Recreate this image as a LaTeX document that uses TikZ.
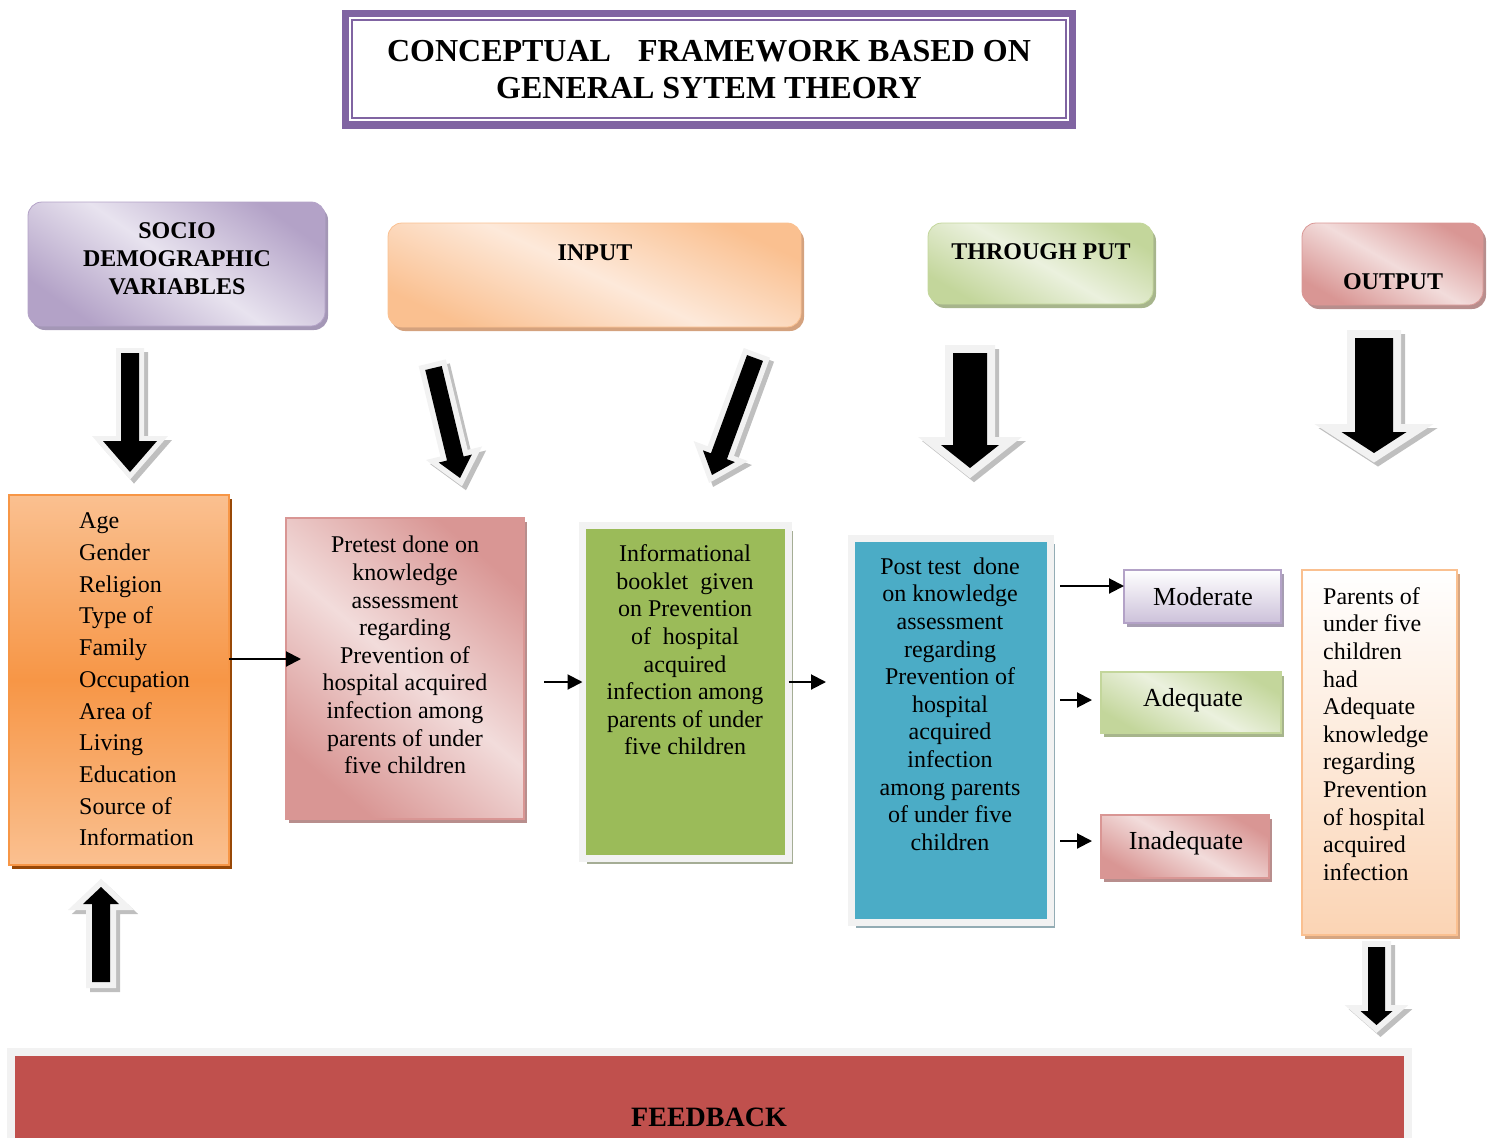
\documentclass[tikz,border=0pt]{standalone}
\usepackage{fontspec}
\setmainfont{Liberation Serif}
\usetikzlibrary{shadows,arrows.meta,calc}

\definecolor{tpurple}{HTML}{8064A2}
\definecolor{socioD}{HTML}{B3A2C7}
\definecolor{socioL}{HTML}{E8E3EF}
\definecolor{socioSh}{HTML}{A497B6}
\definecolor{inD}{HTML}{FAC090}
\definecolor{inL}{HTML}{FDE9DA}
\definecolor{inSh}{HTML}{D4A27E}
\definecolor{thD}{HTML}{C3D69B}
\definecolor{thL}{HTML}{EBF1DE}
\definecolor{thSh}{HTML}{A7B58C}
\definecolor{ouD}{HTML}{D99694}
\definecolor{ouL}{HTML}{F2DCDB}
\definecolor{ouSh}{HTML}{B88E8D}
\definecolor{listD}{HTML}{F79646}
\definecolor{listL}{HTML}{FAC090}
\definecolor{listSh}{HTML}{984807}
\definecolor{grn}{HTML}{9BBB59}
\definecolor{grnSh}{HTML}{A5AD95}
\definecolor{blu}{HTML}{4BACC6}
\definecolor{bluSh}{HTML}{93ACB4}
\definecolor{frameGrey}{HTML}{F2F2F2}
\definecolor{modD}{HTML}{CCC1DA}
\definecolor{modB}{HTML}{B3A2C7}
\definecolor{modSh}{HTML}{A69DB2}
\definecolor{otD}{HTML}{FBD4B4}
\definecolor{otSh}{HTML}{D6A682}
\definecolor{fbRed}{HTML}{C0504D}
\definecolor{arrRim}{HTML}{F2F2F2}
\definecolor{arrSh}{HTML}{BFBFBF}

% block arrow: tail x,y ; tip x,y ; shaft half width ; head half width ; head length ; rim width
\newcommand\blockarr[8]{%
  \pgfmathsetmacro\bdx{(#3)-(#1)}%
  \pgfmathsetmacro\bdy{(#2)-(#4)}%
  \pgfmathsetmacro\blen{veclen(\bdx,\bdy)}%
  \pgfmathsetmacro\bang{atan2(\bdy,\bdx)}%
  \pgfmathsetmacro\bbase{\blen-(#7)}%
  \begin{scope}[shift={({#1+4},{#2+4})},rotate=\bang]
    \path[fill=arrSh,draw=arrSh,line width=#8pt,line join=miter]
      (0,-#5)--(\bbase,-#5)--(\bbase,-#6)--(\blen,0)--(\bbase,#6)--(\bbase,#5)--(0,#5)--cycle;
  \end{scope}
  \begin{scope}[shift={(#1,#2)},rotate=\bang]
    \path[fill=arrRim,draw=arrRim,line width=#8pt,line join=miter]
      (0,-#5)--(\bbase,-#5)--(\bbase,-#6)--(\blen,0)--(\bbase,#6)--(\bbase,#5)--(0,#5)--cycle;
    \path[fill=black]
      (0,-#5)--(\bbase,-#5)--(\bbase,-#6)--(\blen,0)--(\bbase,#6)--(\bbase,#5)--(0,#5)--cycle;
  \end{scope}}

\tikzset{
  hdrtxt/.style={font=\bfseries\fontsize{24}{28}\selectfont, align=center, inner sep=0pt},
  bodytxt/.style={font=\fontsize{24}{27.6}\selectfont, align=center, inner sep=0pt},
  listtxt/.style={font=\fontsize{24}{31.7}\selectfont, align=left, inner sep=0pt},
  gradetxt/.style={font=\fontsize{26}{30}\selectfont, inner sep=0pt},
  conn/.style={line width=2pt, -{Triangle[length=15pt,width=15pt]}},
  boxbase/.style={inner sep=0pt, outer sep=0pt},
  hdrbox/.style={boxbase, rounded corners=14pt},
  dshade/.style n args={3}{top color=#1, bottom color=#1, middle color=#2, shading angle=#3},
  sh/.style={general shadow={fill=#1, shadow xshift=3pt, shadow yshift=-4pt}},
}

\begin{document}
\begin{tikzpicture}[x=1pt,y=-1pt]
\useasboundingbox (0,0) rectangle (1495,1137);
\clip (0,0) rectangle (1495,1137);

% title
\node[boxbase, draw=tpurple, line width=7pt, minimum width=727pt, minimum height=111pt,
      font=\bfseries\fontsize{32}{37}\selectfont, align=center] (title) at (709,69.5)
      {CONCEPTUAL\hspace{27pt}FRAMEWORK BASED ON\\GENERAL SYTEM THEORY};
\draw[tpurple, line width=2pt] ($(title.north west)+(6.5,6.5)$) rectangle ($(title.south east)+(-6.5,-6.5)$);

% header boxes
\node[hdrbox, sh=socioSh, draw=socioD, line width=0.8pt, minimum width=297pt, minimum height=124pt,
      dshade={socioD}{socioL}{-35}] (socio) at (176.5,264) {};
\node[hdrtxt] (sociot) at (177,259) {SOCIO\\DEMOGRAPHIC\\VARIABLES};

\node[hdrbox, sh=inSh, draw=inD, line width=0.8pt, minimum width=413pt, minimum height=104pt,
      dshade={inD}{inL}{-25}] (input) at (594.5,275) {};
\node[hdrtxt] (inputt) at (595,253) {INPUT};

\node[hdrbox, sh=thSh, draw=thD, line width=0.8pt, minimum width=225pt, minimum height=81pt,
      dshade={thD}{thL}{-30}] (thru) at (1040.5,263.5) {};
\node[hdrtxt] (thrut) at (1041,252) {THROUGH PUT};

\node[hdrbox, sh=ouSh, draw=ouD, line width=0.8pt, minimum width=181pt, minimum height=82pt,
      dshade={ouD}{ouL}{-30}] (outp) at (1392.5,264) {};
\node[hdrtxt] (outpt) at (1393,282) {OUTPUT};

% block arrows
\blockarr{130}{353}{130}{472}{9}{27}{31}{10}
\blockarr{433.5}{368}{460}{478}{8.5}{17}{20}{11}
\blockarr{755}{358}{712}{475}{8.5}{17}{20}{11}
\blockarr{970}{353}{970}{468}{17}{29}{23}{16}
\blockarr{1374}{338}{1374}{453}{19}{32.5}{21}{16}
\blockarr{101}{982}{101}{887}{9}{18}{17}{12}
\blockarr{1376.5}{947}{1376.5}{1025}{8.5}{16}{14}{12}

% list box
\node[boxbase, general shadow={fill=listSh, shadow xshift=3pt, shadow yshift=-4pt},
      draw=listD, line width=1.5pt, minimum width=220pt, minimum height=370pt,
      top color=listL, bottom color=listL, middle color=listD] (list) at (119,680) {};
\node[listtxt, anchor=west] (listt) at (79,679.5)
  {Age\\Gender\\Religion\\Type of\\Family\\Occupation\\Area of\\Living\\Education\\Source of\\Information};

% pretest box
\node[boxbase, sh=ouSh, draw=ouD, line width=1.5pt, minimum width=238pt, minimum height=301pt,
      dshade={ouD}{ouL}{-40}] (pre) at (405,668.5) {};
\node[bodytxt] (pret) at (405,655)
  {Pretest done on\\knowledge\\assessment\\regarding\\Prevention of\\hospital acquired\\infection among\\parents of under\\five children};

% green box
\node[boxbase, general shadow={fill=grnSh, shadow xshift=4pt, shadow yshift=-5pt},
      fill=grn, draw=frameGrey, line width=7pt, minimum width=206pt, minimum height=333pt] (green) at (685.5,692) {};
\node[bodytxt] (greent) at (685,650)
  {Informational\\booklet\ \ given\\on Prevention\\of\ \ hospital\\acquired\\infection among\\parents of under\\five children};

% blue box
\node[boxbase, general shadow={fill=bluSh, shadow xshift=4pt, shadow yshift=-5pt},
      fill=blu, draw=frameGrey, line width=7pt, minimum width=199pt, minimum height=384pt] (blue) at (951,730.5) {};
\node[bodytxt] (bluet) at (950,704)
  {Post test\ \ done\\on knowledge\\assessment\\regarding\\Prevention of\\hospital\\acquired\\infection\\among parents\\of under five\\children};

% grade boxes
\node[boxbase, sh=modSh, draw=modB, line width=2.5pt, minimum width=157pt, minimum height=53pt,
      top color=white, bottom color=modD] (mod) at (1202.5,596.5) {};
\node[gradetxt] (modt) at (1203,597) {Moderate};
\node[boxbase, sh=thSh, draw=thD, line width=2.5pt, minimum width=180pt, minimum height=61pt,
      dshade={thD}{thL}{-30}] (adq) at (1191,702.5) {};
\node[gradetxt] (adqt) at (1193,700) {Adequate};
\node[boxbase, sh=ouSh, draw=ouD, line width=2.5pt, minimum width=168pt, minimum height=63pt,
      dshade={ouD}{ouL}{-30}] (inadq) at (1185,846.5) {};
\node[gradetxt] (inadqt) at (1186,843) {Inadequate};

% output text box
\node[boxbase, sh=otSh, draw=inD, line width=2pt, minimum width=155pt, minimum height=365pt,
      top color=white, bottom color=otD] (otb) at (1379.5,752.5) {};
\node[bodytxt, align=left, anchor=west] (otbt) at (1323,734)
  {Parents of\\under five\\children\\had\\Adequate\\knowledge\\regarding\\Prevention\\of hospital\\acquired\\infection};

% feedback
\node[boxbase, fill=fbRed, draw=frameGrey, line width=8pt, minimum width=1397pt, minimum height=100pt] (fb) at (709.5,1102) {};
\node[font=\bfseries\fontsize{28}{32}\selectfont, inner sep=0pt] (fbt) at (709,1117) {FEEDBACK};

% connectors
\coordinate (c1e) at (301,659);
\draw[conn] (list.east |- c1e) -- (c1e);
\coordinate (c2s) at (544,682);
\draw[conn] (c2s) -- (green.west |- c2s);
\coordinate (c3e) at (826,682);
\draw[conn] (green.east |- c3e) -- (c3e);
\coordinate (c4s) at (1060,586);
\draw[conn] (c4s) -- (mod.west |- c4s);
\coordinate (c5s) at (1060,700);
\coordinate (c5e) at (1092,700);
\draw[conn] (c5s) -- (c5e);
\coordinate (c6s) at (1060,841);
\coordinate (c6e) at (1092,841);
\draw[conn] (c6s) -- (c6e);
\end{tikzpicture}
\end{document}
